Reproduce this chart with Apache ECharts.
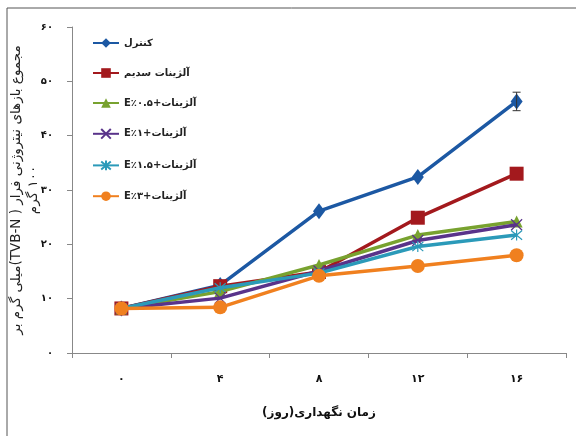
<!DOCTYPE html>
<html>
<head>
<meta charset="utf-8">
<script src="https://cdn.jsdelivr.net/npm/echarts@6/dist/echarts.min.js"></script>
<style>
  html, body { margin: 0; padding: 0; background: #fff; }
  #chart { width: 576px; height: 436px; direction: rtl; }
</style>
</head>
<body>
<div id="chart"></div>
<script>
// روزها و مقادیر TVB-N
const days = ['۰', '۴', '۸', '۱۲', '۱۶'];
const yTickLabels = ['۰', '۱۰', '۲۰', '۳۰', '۴۰', '۵۰', '۶۰'];
const seriesNames = ['کنترل', 'آلژینات سدیم', 'آلژینات+E٪۰.۵', 'آلژینات+E٪۱', 'آلژینات+E٪۱.۵', 'آلژینات+E٪۳'];
const control = [8.2, 12.5, 26.1, 32.4, 46.3];
const alginate = [8.2, 12.3, 14.9, 24.9, 33.0];
const algE05 = [8.2, 11.3, 16.2, 21.7, 24.2];
const algE1 = [8.2, 10.1, 15.1, 20.7, 23.6];
const algE15 = [8.2, 12.0, 14.7, 19.6, 21.7];
const algE3 = [8.2, 8.4, 14.2, 16.0, 18.0];
const controlErr = [0, 0, 0, 0, 1.7];

const colors = ['#1c58a3', '#a3191d', '#78a22f', '#59338a', '#2b9ab9', '#f0801f'];
const faFont = 'DejaVu Sans';

const chart = echarts.init(document.getElementById('chart'));

const lineSeries = (idx, data, symbol, size, extra) => Object.assign({
  name: seriesNames[idx],
  type: 'line',
  data: data,
  symbol: symbol,
  symbolSize: size,
  lineStyle: { width: 3.5, color: colors[idx] },
  itemStyle: { color: colors[idx] },
  z: 2 + idx
}, extra || {});

const option = {
  animation: false,
  color: colors,
  grid: { left: 72, right: 10, top: 27, bottom: 83, outerBoundsMode: 'none', containLabel: false },
  graphic: [
    { type: 'polyline', shape: { points: [[7, 436], [7, 8], [576, 8]] }, style: { stroke: '#555', lineWidth: 1, fill: null } }
  ],
  legend: {
    orient: 'vertical',
    left: 92,
    top: 38,
    padding: 0,
    itemWidth: 26,
    itemHeight: 12,
    itemGap: 20,
    textStyle: { fontFamily: faFont, fontSize: 10, fontWeight: 'bold', color: '#222' },
    data: seriesNames
  },
  xAxis: {
    type: 'category',
    data: days,
    boundaryGap: true,
    name: 'زمان نگهداری(روز)',
    nameLocation: 'middle',
    nameGap: 54,
    nameMoveOverlap: false,
    nameTextStyle: { fontFamily: faFont, fontSize: 12, fontWeight: 'bold', color: '#111' },
    axisLine: { lineStyle: { color: '#888', width: 1 } },
    axisTick: { show: true, length: 5, lineStyle: { color: '#888' } },
    axisLabel: { margin: 21, fontFamily: faFont, fontSize: 11, fontWeight: 'bold', color: '#111' },
    splitLine: { show: false }
  },
  yAxis: {
    type: 'value',
    min: 0,
    max: 60,
    interval: 10,
    name: 'مجموع بازهای نیتروژنی فرار ( TVB-N)میلی گرم بر\n۱۰۰ گرم',
    nameLocation: 'middle',
    nameRotate: 90,
    nameGap: 30,
    nameMoveOverlap: false,
    nameTextStyle: { fontFamily: faFont, fontSize: 13.5, color: '#222', lineHeight: 17 },
    axisLine: { show: true, lineStyle: { color: '#888', width: 1 } },
    axisTick: { show: true, length: 5, lineStyle: { color: '#888' } },
    axisLabel: {
      margin: 19,
      fontFamily: faFont,
      fontSize: 10,
      fontWeight: 'bold',
      color: '#111',
      formatter: v => yTickLabels[Math.round(v / 10)]
    },
    splitLine: { show: false }
  },
  series: [
    lineSeries(0, control, 'diamond', [12, 16]),
    lineSeries(1, alginate, 'rect', 14),
    lineSeries(2, algE05, 'triangle', 12),
    lineSeries(3, algE1, 'path://M0,0L10,10M10,0L0,10', 11, {
      itemStyle: { color: colors[3], borderColor: colors[3], borderWidth: 1.2 }
    }),
    lineSeries(4, algE15, 'path://M0,0L10,10M10,0L0,10M5,-1L5,11', 11, {
      itemStyle: { color: colors[4], borderColor: colors[4], borderWidth: 1.2 }
    }),
    lineSeries(5, algE3, 'circle', 14),
    {
      name: 'err',
      type: 'custom',
      z: 20,
      silent: true,
      data: control.map((v, i) => [i, v, controlErr[i]]),
      renderItem: function (params, api) {
        const e = api.value(2);
        if (!e) return null;
        const top = api.coord([api.value(0), api.value(1) + e]);
        const bot = api.coord([api.value(0), api.value(1) - e]);
        const style = { stroke: '#333', lineWidth: 1 };
        return {
          type: 'group',
          children: [
            { type: 'line', shape: { x1: top[0], y1: top[1], x2: bot[0], y2: bot[1] }, style: style },
            { type: 'line', shape: { x1: top[0] - 4, y1: top[1], x2: top[0] + 4, y2: top[1] }, style: style },
            { type: 'line', shape: { x1: bot[0] - 4, y1: bot[1], x2: bot[0] + 4, y2: bot[1] }, style: style }
          ]
        };
      }
    }
  ]
};

chart.setOption(option);
</script>
</body>
</html>
